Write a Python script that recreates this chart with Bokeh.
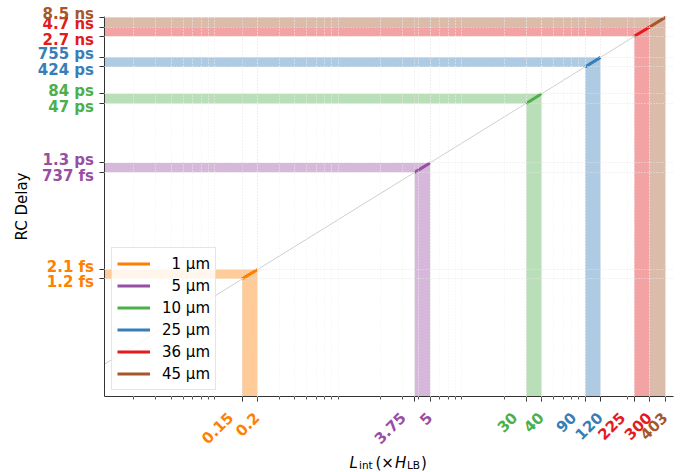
import math
from bokeh.plotting import figure
from bokeh.models import FixedTicker, CustomJSTickFormatter, Label, Range1d
from bokeh.embed import file_html
from bokeh.resources import INLINE

# ---------------- data ----------------
widths = ["1 µm", "5 µm", "10 µm", "25 µm", "36 µm", "45 µm"]
colors = ["#ff7f00", "#984ea3", "#4daf4a", "#377eb8", "#e41a1c", "#a65628"]
L_lo = [0.15, 3.75, 30, 90, 225, 300]
L_hi = [0.2, 5, 40, 120, 300, 403]
delay_lo = [1.2e-15, 737e-15, 47e-12, 424e-12, 2.7e-9, 4.7e-9]
delay_hi = [2.1e-15, 1.3e-12, 84e-12, 755e-12, 4.7e-9, 8.5e-9]
L_lo_text = ["0.15", "3.75", "30", "90", "225", "300"]
L_hi_text = ["0.2", "5", "40", "120", "300", "403"]
delay_lo_text = ["1.2 fs", "737 fs", "47 ps", "424 ps", "2.7 ns", "4.7 ns"]
delay_hi_text = ["2.1 fs", "1.3 ps", "84 ps", "755 ps", "4.7 ns", "8.5 ns"]

# axes limits of the plotting area
X_MIN, X_MAX = 0.01155, 468.0
Y_MIN, Y_MAX = 1.0e-18, 8.86e-9

# layout (pixels) of the plotting area inside the canvas
W, H = 694, 472
AX_L, AX_R, AX_T, AX_B = 104, 673, 16, 396

FONT = "DejaVu Sans"
n = len(widths)

# the frame covers the whole canvas; extend the log ranges accordingly
lx0, lx1 = math.log10(X_MIN), math.log10(X_MAX)
ppd_x = (AX_R - AX_L) / (lx1 - lx0)
ly0, ly1 = math.log10(Y_MIN), math.log10(Y_MAX)
ppd_y = (AX_B - AX_T) / (ly1 - ly0)
xr = Range1d(10 ** (lx0 - AX_L / ppd_x), 10 ** (lx1 + (W - AX_R) / ppd_x))
yr = Range1d(10 ** (ly0 - (H - AX_B) / ppd_y), 10 ** (ly1 + AX_T / ppd_y))

p = figure(width=W, height=H, x_axis_type="log", y_axis_type="log",
           x_range=xr, y_range=yr, output_backend="svg", toolbar_location=None,
           min_border_left=0, min_border_right=0, min_border_top=0,
           min_border_bottom=0)
p.outline_line_color = None
p.background_fill_color = "white"
p.border_fill_color = "white"

# shaded L-shaped bands
band_xs = [[X_MIN, lo, lo, hi, hi, X_MIN] for lo, hi in zip(L_lo, L_hi)]
band_ys = [[dl, dl, Y_MIN, Y_MIN, dh, dh] for dl, dh in zip(delay_lo, delay_hi)]
p.patches(band_xs, band_ys, fill_color=colors, fill_alpha=0.4, line_color=None)

# reference diagonal (delay proportional to L^2), fitted to the points
all_L = L_lo + L_hi
all_d = delay_lo + delay_hi
k = math.exp(sum(math.log(d / (l * l)) for l, d in zip(all_L, all_d)) / len(all_L))
guide_L = [max(X_MIN, math.sqrt(Y_MIN / k)), min(X_MAX, math.sqrt(Y_MAX / k))]
guide_d = [k * l * l for l in guide_L]
p.line(guide_L, guide_d, line_color="#cfcfcf", line_width=1)

# colored segments
maxdig = max(len(w.split()[0]) for w in widths)
for i in range(n):
    pad = "\u2007" * (maxdig - len(widths[i].split()[0]))
    p.line([L_lo[i], L_hi[i]], [delay_lo[i], delay_hi[i]], line_color=colors[i],
           line_width=3, legend_label=pad + widths[i])

# axes drawn at the edges of the plotting area
xminor = [m * 10.0 ** e for e in range(-2, 3) for m in range(2, 10)]
xminor = [v for v in xminor if X_MIN <= v <= X_MAX]
p.xaxis.ticker = FixedTicker(ticks=sorted(set(all_L)), minor_ticks=xminor)
p.yaxis.ticker = FixedTicker(ticks=sorted(set(all_d)), minor_ticks=[])
p.xaxis.fixed_location = Y_MIN
p.yaxis.fixed_location = X_MIN
p.xaxis.bounds = (X_MIN, X_MAX)
p.yaxis.bounds = (Y_MIN, Y_MAX)
for ax in (p.xaxis[0], p.yaxis[0]):
    ax.formatter = CustomJSTickFormatter(code="return ''")
    ax.major_tick_out = 5
    ax.major_tick_in = 0
    ax.minor_tick_out = 3
    ax.minor_tick_in = 0
    ax.axis_line_color = "#333333"
    ax.major_tick_line_color = "#333333"
    ax.minor_tick_line_color = "#555555"
    ax.major_label_standoff = 0

# grids on top of the bands, limited to the plotting area
xg, yg = p.xgrid[0], p.ygrid[0]
for g in (xg, yg):
    g.grid_line_color = "#e4e4e4"
    g.grid_line_dash = "1 2"
    g.grid_line_width = 1
    g.level = "annotation"
xg.minor_grid_line_color = "#f1f1f1"
xg.minor_grid_line_dash = "1 2"
xg.bounds = (X_MIN, X_MAX)
yg.bounds = (Y_MIN, Y_MAX)
if "cross_bounds" in xg.properties():
    xg.cross_bounds = (Y_MIN, Y_MAX)
    yg.cross_bounds = (X_MIN, X_MAX)

# colored tick labels
seen_x = set()
seen_y = set()
for i in range(n):
    for val, txt, kind in ((L_lo[i], L_lo_text[i], "lo"), (L_hi[i], L_hi_text[i], "hi")):
        if val in seen_x:
            continue
        seen_x.add(val)
        p.add_layout(Label(x=val, y=Y_MIN, text=txt, angle=math.pi / 4,
                           text_align="right", text_baseline="middle",
                           x_offset=-12 if kind == "lo" else -1, y_offset=-18,
                           text_color=colors[i], text_font=FONT,
                           text_font_size="15px", text_font_style="bold"))
    for val, txt, kind in ((delay_lo[i], delay_lo_text[i], "lo"), (delay_hi[i], delay_hi_text[i], "hi")):
        if val in seen_y:
            continue
        seen_y.add(val)
        p.add_layout(Label(x=X_MIN, y=val, text=txt,
                           text_align="right", text_baseline="middle",
                           x_offset=-10.5, y_offset=3 if kind == "hi" else -3.5,
                           text_color=colors[i], text_font=FONT,
                           text_font_size="15px", text_font_style="bold"))

# axis titles
yc = math.sqrt(Y_MIN * Y_MAX)
p.add_layout(Label(x=X_MIN, y=yc, text="RC Delay", angle=math.pi / 2,
                   text_align="center", text_baseline="alphabetic",
                   x_offset=-83, text_color="black", text_font=FONT,
                   text_font_size="15px"))

xc = math.sqrt(X_MIN * X_MAX)
title_parts = [("L", "italic", "15px", 0.0, 0.0),
               ("int", "normal", "10.5px", 9.5, -2.5),
               ("(×", "normal", "15px", 26.0, 0.0),
               ("H", "italic", "15px", 45.5, 0.0),
               ("LB", "normal", "10.5px", 57.5, -2.5),
               (")", "normal", "15px", 71.5, 0.0)]
for txt, style, size, dx, dy in title_parts:
    p.add_layout(Label(x=xc, y=Y_MIN, text=txt, text_align="left",
                       text_baseline="alphabetic", x_offset=-39.5 + dx,
                       y_offset=-66.0 + dy, text_color="black", text_font=FONT,
                       text_font_size=size, text_font_style=style))

# legend
lg = p.legend[0]
lg.location = (111, H - 390)
lg.label_text_font = FONT
lg.label_text_font_size = "15px"
lg.label_text_color = "black"
lg.glyph_width = 33
lg.glyph_height = 21
lg.label_height = 21
lg.label_standoff = 12
lg.spacing = 1
lg.padding = 5
lg.margin = 0
lg.background_fill_color = "white"
lg.background_fill_alpha = 0.8
lg.border_line_color = "#cccccc"
lg.border_line_width = 1

open("out.html", "w").write(file_html(p, INLINE))
